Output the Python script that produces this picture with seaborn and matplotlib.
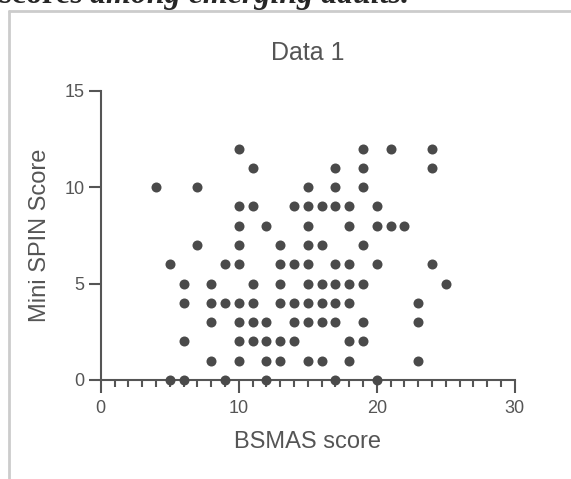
import matplotlib
matplotlib.use("Agg")
import matplotlib.pyplot as plt
from matplotlib.lines import Line2D
from matplotlib.ticker import MultipleLocator
import pandas as pd
import seaborn as sns

# BSMAS score (x) and Mini SPIN score (y), one entry per participant,
# read off the picture row by row from the top
bsmas_score = [
    10, 19, 21, 24,
    11, 17, 19, 24,
    4, 7, 15, 17, 19,
    10, 11, 14, 15, 16, 17, 18, 20,
    10, 12, 15, 18, 20, 21, 22,
    7, 10, 13, 15, 16, 19,
    5, 9, 10, 13, 14, 15, 17, 18, 20, 24,
    6, 8, 11, 13, 15, 16, 17, 18, 19, 25,
    6, 8, 9, 10, 11, 13, 14, 15, 16, 17, 18, 23,
    8, 10, 11, 12, 14, 15, 16, 17, 19, 23,
    6, 10, 11, 12, 13, 14, 18, 19,
    8, 10, 12, 13, 15, 16, 18, 23,
    5, 6, 9, 12, 17, 20,
]
mini_spin_score = [
    12, 12, 12, 12,
    11, 11, 11, 11,
    10, 10, 10, 10, 10,
    9, 9, 9, 9, 9, 9, 9, 9,
    8, 8, 8, 8, 8, 8, 8,
    7, 7, 7, 7, 7, 7,
    6, 6, 6, 6, 6, 6, 6, 6, 6, 6,
    5, 5, 5, 5, 5, 5, 5, 5, 5, 5,
    4, 4, 4, 4, 4, 4, 4, 4, 4, 4, 4, 4,
    3, 3, 3, 3, 3, 3, 3, 3, 3, 3,
    2, 2, 2, 2, 2, 2, 2, 2,
    1, 1, 1, 1, 1, 1, 1, 1,
    0, 0, 0, 0, 0, 0,
]
x_ticks = [0, 10, 20, 30]
y_ticks = [0, 5, 10, 15]

df = pd.DataFrame({"BSMAS score": bsmas_score, "Mini SPIN Score": mini_spin_score})

sns.set_style("ticks")
plt.rcParams["font.family"] = ["Liberation Sans", "DejaVu Sans"]

axis_col = "#555555"
text_col = "#555555"

fig = plt.figure(figsize=(5.71, 4.79), dpi=100)
fig.patch.set_facecolor("white")
ax = fig.add_axes([0.1764, 0.2067, 0.725, 0.604])

sns.scatterplot(data=df, x="BSMAS score", y="Mini SPIN Score", ax=ax,
                color="#4a4a4a", s=52, linewidth=0, clip_on=False, zorder=4)

ax.set_xlim(0, 30)
ax.set_ylim(0, 15)
ax.set_xticks(x_ticks)
ax.set_yticks(y_ticks)
ax.xaxis.set_minor_locator(MultipleLocator(1))
sns.despine(ax=ax)
for side in ["left", "bottom"]:
    ax.spines[side].set_color(axis_col)
    ax.spines[side].set_linewidth(1.5)
ax.tick_params(axis="both", which="major", color=axis_col, width=1.5,
               labelsize=13, labelcolor=text_col)
ax.tick_params(axis="x", which="major", length=9.5, pad=5)
ax.tick_params(axis="y", which="major", length=8.5, pad=3)
ax.tick_params(axis="x", which="minor", length=5, width=1.5, color=axis_col)

ax.set_title("Data 1", fontsize=18, color=text_col, pad=22)
ax.set_xlabel("BSMAS score", fontsize=17, color=text_col, labelpad=10)
ax.set_ylabel("Mini SPIN Score", fontsize=17, color=text_col, labelpad=10)

# page frame and the cut-off caption line above the figure
fig.add_artist(Line2D([9 / 571, 9 / 571], [0, 1 - 11 / 479], color="#cccccc", lw=2))
fig.add_artist(Line2D([9 / 571, 1], [1 - 11 / 479, 1 - 11 / 479], color="#cccccc", lw=2))
t1 = fig.text(-0.002, 1 - 3 / 479, "scores ", fontsize=23, fontweight="bold",
              family="Liberation Serif", va="baseline", ha="left")
fig.canvas.draw()
bb = t1.get_window_extent()
fig.text(bb.x1 / fig.bbox.width, 1 - 3 / 479, "among emerging adults.", fontsize=23,
         fontweight="bold", fontstyle="italic", family="Liberation Serif",
         va="baseline", ha="left")

fig.savefig("out.png", dpi=100)
